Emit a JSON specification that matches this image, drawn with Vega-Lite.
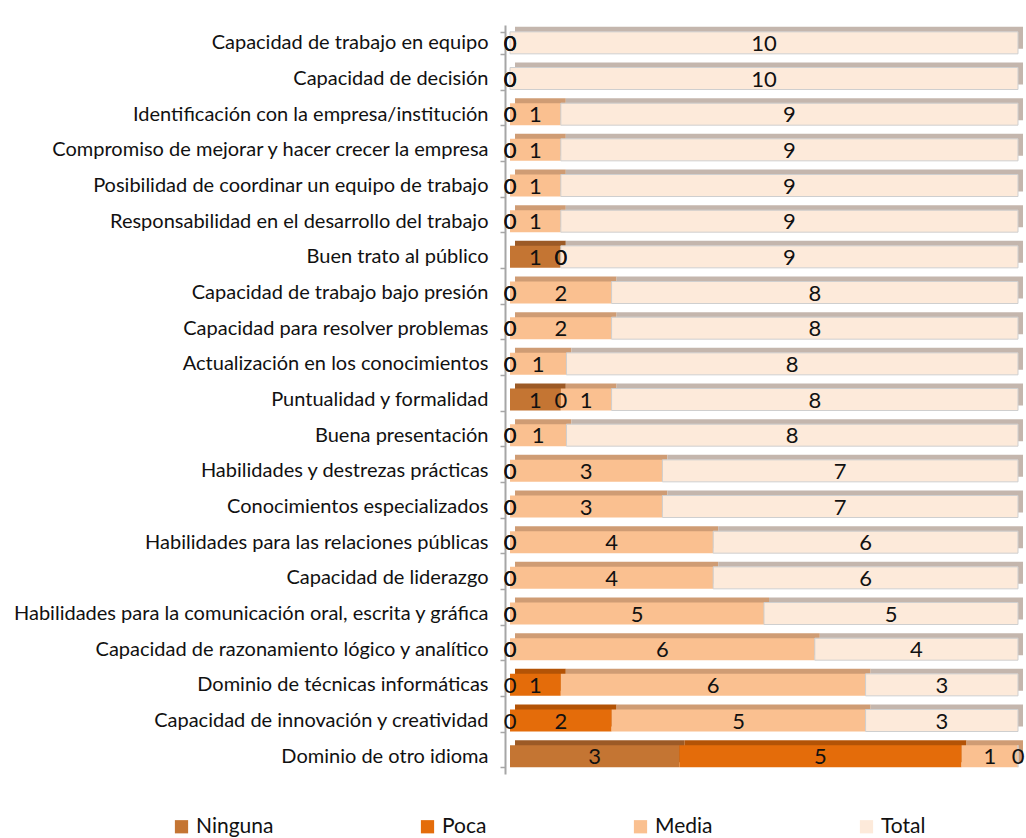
{
  "$schema": "https://vega.github.io/schema/vega-lite/v6.json",
  "autosize": {"type": "none"},
  "width": 508,
  "height": 749,
  "padding": {"left": 510, "top": 25, "right": 8, "bottom": 64},
  "background": "white",
  "config": {
    "font": "Lato",
    "view": {"stroke": null}
  },
  "data": {
    "values": [
      {"n": 1, "c": "Capacidad de trabajo en equipo", "l": "Ninguna", "o": 1, "v": 0},
      {"n": 1, "c": "Capacidad de trabajo en equipo", "l": "Poca", "o": 2, "v": 0},
      {"n": 1, "c": "Capacidad de trabajo en equipo", "l": "Media", "o": 3, "v": 0},
      {"n": 1, "c": "Capacidad de trabajo en equipo", "l": "Total", "o": 4, "v": 10},
      {"n": 2, "c": "Capacidad de decisión", "l": "Ninguna", "o": 1, "v": 0},
      {"n": 2, "c": "Capacidad de decisión", "l": "Poca", "o": 2, "v": 0},
      {"n": 2, "c": "Capacidad de decisión", "l": "Media", "o": 3, "v": 0},
      {"n": 2, "c": "Capacidad de decisión", "l": "Total", "o": 4, "v": 10},
      {"n": 3, "c": "Identificación con la empresa/institución", "l": "Ninguna", "o": 1, "v": 0},
      {"n": 3, "c": "Identificación con la empresa/institución", "l": "Poca", "o": 2, "v": 0},
      {"n": 3, "c": "Identificación con la empresa/institución", "l": "Media", "o": 3, "v": 1},
      {"n": 3, "c": "Identificación con la empresa/institución", "l": "Total", "o": 4, "v": 9},
      {"n": 4, "c": "Compromiso de mejorar y hacer crecer la empresa", "l": "Ninguna", "o": 1, "v": 0},
      {"n": 4, "c": "Compromiso de mejorar y hacer crecer la empresa", "l": "Poca", "o": 2, "v": 0},
      {"n": 4, "c": "Compromiso de mejorar y hacer crecer la empresa", "l": "Media", "o": 3, "v": 1},
      {"n": 4, "c": "Compromiso de mejorar y hacer crecer la empresa", "l": "Total", "o": 4, "v": 9},
      {"n": 5, "c": "Posibilidad de coordinar un equipo de trabajo", "l": "Ninguna", "o": 1, "v": 0},
      {"n": 5, "c": "Posibilidad de coordinar un equipo de trabajo", "l": "Poca", "o": 2, "v": 0},
      {"n": 5, "c": "Posibilidad de coordinar un equipo de trabajo", "l": "Media", "o": 3, "v": 1},
      {"n": 5, "c": "Posibilidad de coordinar un equipo de trabajo", "l": "Total", "o": 4, "v": 9},
      {"n": 6, "c": "Responsabilidad en el desarrollo del trabajo", "l": "Ninguna", "o": 1, "v": 0},
      {"n": 6, "c": "Responsabilidad en el desarrollo del trabajo", "l": "Poca", "o": 2, "v": 0},
      {"n": 6, "c": "Responsabilidad en el desarrollo del trabajo", "l": "Media", "o": 3, "v": 1},
      {"n": 6, "c": "Responsabilidad en el desarrollo del trabajo", "l": "Total", "o": 4, "v": 9},
      {"n": 7, "c": "Buen trato al público", "l": "Ninguna", "o": 1, "v": 1},
      {"n": 7, "c": "Buen trato al público", "l": "Poca", "o": 2, "v": 0},
      {"n": 7, "c": "Buen trato al público", "l": "Media", "o": 3, "v": 0},
      {"n": 7, "c": "Buen trato al público", "l": "Total", "o": 4, "v": 9},
      {"n": 8, "c": "Capacidad de trabajo bajo presión", "l": "Ninguna", "o": 1, "v": 0},
      {"n": 8, "c": "Capacidad de trabajo bajo presión", "l": "Poca", "o": 2, "v": 0},
      {"n": 8, "c": "Capacidad de trabajo bajo presión", "l": "Media", "o": 3, "v": 2},
      {"n": 8, "c": "Capacidad de trabajo bajo presión", "l": "Total", "o": 4, "v": 8},
      {"n": 9, "c": "Capacidad para resolver problemas", "l": "Ninguna", "o": 1, "v": 0},
      {"n": 9, "c": "Capacidad para resolver problemas", "l": "Poca", "o": 2, "v": 0},
      {"n": 9, "c": "Capacidad para resolver problemas", "l": "Media", "o": 3, "v": 2},
      {"n": 9, "c": "Capacidad para resolver problemas", "l": "Total", "o": 4, "v": 8},
      {"n": 10, "c": "Actualización en los conocimientos", "l": "Ninguna", "o": 1, "v": 0},
      {"n": 10, "c": "Actualización en los conocimientos", "l": "Poca", "o": 2, "v": 0},
      {"n": 10, "c": "Actualización en los conocimientos", "l": "Media", "o": 3, "v": 1},
      {"n": 10, "c": "Actualización en los conocimientos", "l": "Total", "o": 4, "v": 8},
      {"n": 11, "c": "Puntualidad y formalidad", "l": "Ninguna", "o": 1, "v": 1},
      {"n": 11, "c": "Puntualidad y formalidad", "l": "Poca", "o": 2, "v": 0},
      {"n": 11, "c": "Puntualidad y formalidad", "l": "Media", "o": 3, "v": 1},
      {"n": 11, "c": "Puntualidad y formalidad", "l": "Total", "o": 4, "v": 8},
      {"n": 12, "c": "Buena presentación", "l": "Ninguna", "o": 1, "v": 0},
      {"n": 12, "c": "Buena presentación", "l": "Poca", "o": 2, "v": 0},
      {"n": 12, "c": "Buena presentación", "l": "Media", "o": 3, "v": 1},
      {"n": 12, "c": "Buena presentación", "l": "Total", "o": 4, "v": 8},
      {"n": 13, "c": "Habilidades y destrezas prácticas", "l": "Ninguna", "o": 1, "v": 0},
      {"n": 13, "c": "Habilidades y destrezas prácticas", "l": "Poca", "o": 2, "v": 0},
      {"n": 13, "c": "Habilidades y destrezas prácticas", "l": "Media", "o": 3, "v": 3},
      {"n": 13, "c": "Habilidades y destrezas prácticas", "l": "Total", "o": 4, "v": 7},
      {"n": 14, "c": "Conocimientos especializados", "l": "Ninguna", "o": 1, "v": 0},
      {"n": 14, "c": "Conocimientos especializados", "l": "Poca", "o": 2, "v": 0},
      {"n": 14, "c": "Conocimientos especializados", "l": "Media", "o": 3, "v": 3},
      {"n": 14, "c": "Conocimientos especializados", "l": "Total", "o": 4, "v": 7},
      {"n": 15, "c": "Habilidades para las relaciones públicas", "l": "Ninguna", "o": 1, "v": 0},
      {"n": 15, "c": "Habilidades para las relaciones públicas", "l": "Poca", "o": 2, "v": 0},
      {"n": 15, "c": "Habilidades para las relaciones públicas", "l": "Media", "o": 3, "v": 4},
      {"n": 15, "c": "Habilidades para las relaciones públicas", "l": "Total", "o": 4, "v": 6},
      {"n": 16, "c": "Capacidad de liderazgo", "l": "Ninguna", "o": 1, "v": 0},
      {"n": 16, "c": "Capacidad de liderazgo", "l": "Poca", "o": 2, "v": 0},
      {"n": 16, "c": "Capacidad de liderazgo", "l": "Media", "o": 3, "v": 4},
      {"n": 16, "c": "Capacidad de liderazgo", "l": "Total", "o": 4, "v": 6},
      {"n": 17, "c": "Habilidades para la comunicación oral, escrita y gráfica", "l": "Ninguna", "o": 1, "v": 0},
      {"n": 17, "c": "Habilidades para la comunicación oral, escrita y gráfica", "l": "Poca", "o": 2, "v": 0},
      {"n": 17, "c": "Habilidades para la comunicación oral, escrita y gráfica", "l": "Media", "o": 3, "v": 5},
      {"n": 17, "c": "Habilidades para la comunicación oral, escrita y gráfica", "l": "Total", "o": 4, "v": 5},
      {"n": 18, "c": "Capacidad de razonamiento lógico y analítico", "l": "Ninguna", "o": 1, "v": 0},
      {"n": 18, "c": "Capacidad de razonamiento lógico y analítico", "l": "Poca", "o": 2, "v": 0},
      {"n": 18, "c": "Capacidad de razonamiento lógico y analítico", "l": "Media", "o": 3, "v": 6},
      {"n": 18, "c": "Capacidad de razonamiento lógico y analítico", "l": "Total", "o": 4, "v": 4},
      {"n": 19, "c": "Dominio de técnicas informáticas", "l": "Ninguna", "o": 1, "v": 0},
      {"n": 19, "c": "Dominio de técnicas informáticas", "l": "Poca", "o": 2, "v": 1},
      {"n": 19, "c": "Dominio de técnicas informáticas", "l": "Media", "o": 3, "v": 6},
      {"n": 19, "c": "Dominio de técnicas informáticas", "l": "Total", "o": 4, "v": 3},
      {"n": 20, "c": "Capacidad de innovación y creatividad", "l": "Ninguna", "o": 1, "v": 0},
      {"n": 20, "c": "Capacidad de innovación y creatividad", "l": "Poca", "o": 2, "v": 2},
      {"n": 20, "c": "Capacidad de innovación y creatividad", "l": "Media", "o": 3, "v": 5},
      {"n": 20, "c": "Capacidad de innovación y creatividad", "l": "Total", "o": 4, "v": 3},
      {"n": 21, "c": "Dominio de otro idioma", "l": "Ninguna", "o": 1, "v": 3},
      {"n": 21, "c": "Dominio de otro idioma", "l": "Poca", "o": 2, "v": 5},
      {"n": 21, "c": "Dominio de otro idioma", "l": "Media", "o": 3, "v": 1},
      {"n": 21, "c": "Dominio de otro idioma", "l": "Total", "o": 4, "v": 0}
    ]
  },
  "encoding": {
    "y": {
      "field": "c",
      "type": "nominal",
      "sort": {"field": "n", "op": "min", "order": "ascending"},
      "scale": {"paddingInner": 0.38, "paddingOuter": 0.19},
      "axis": {
        "title": null,
        "offset": 5,
        "domainColor": "#A6A6A6",
        "domainWidth": 2,
        "tickColor": "#A6A6A6",
        "tickWidth": 1.5,
        "tickSize": 5,
        "tickBand": "extent",
        "labelFont": "Lato",
        "labelFontSize": 20,
        "labelColor": "#111111",
        "labelPadding": 12,
        "labelLimit": 600
      }
    }
  },
  "layer": [
    {
      "mark": {"type": "bar", "size": 22, "xOffset": 5, "yOffset": -5},
      "encoding": {
        "x": {"field": "v", "type": "quantitative", "stack": "normalize", "scale": {"domain": [0, 1]}, "axis": null},
        "order": {"field": "o", "type": "quantitative"},
        "color": {
          "field": "l",
          "type": "nominal",
          "scale": {"domain": ["Ninguna", "Poca", "Media", "Total"], "range": ["#9C5A26", "#B35306", "#CF9C74", "#C4B6AD"]},
          "legend": null
        }
      }
    },
    {
      "mark": {"type": "bar", "size": 22, "strokeWidth": 1},
      "encoding": {
        "x": {"field": "v", "type": "quantitative", "stack": "normalize"},
        "order": {"field": "o", "type": "quantitative"},
        "stroke": {"condition": {"test": "datum.l === 'Total'", "value": "#CFCFCF"}, "value": null},
        "color": {
          "field": "l",
          "type": "nominal",
          "scale": {"domain": ["Ninguna", "Poca", "Media", "Total"], "range": ["#C47533", "#E46C0A", "#FAC090", "#FDEADA"]},
          "legend": {
            "title": null,
            "orient": "none",
            "direction": "horizontal",
            "legendX": -339,
            "legendY": 791,
            "symbolType": "square",
            "symbolSize": 175,
            "symbolOpacity": 1,
            "labelFont": "Lato",
            "labelFontSize": 21,
            "labelColor": "#111111",
            "columnPadding": 143,
            "labelOffset": 4
          }
        }
      }
    },
    {
      "mark": {"type": "text", "font": "Lato", "fontSize": 22, "color": "#111111", "baseline": "middle", "dy": 1},
      "encoding": {
        "x": {"field": "v", "type": "quantitative", "stack": "normalize", "bandPosition": 0.5},
        "order": {"field": "o", "type": "quantitative"},
        "detail": {"field": "l"},
        "text": {"field": "v", "type": "quantitative", "format": "d"}
      }
    }
  ],
  "resolve": {"scale": {"color": "independent"}}
}
